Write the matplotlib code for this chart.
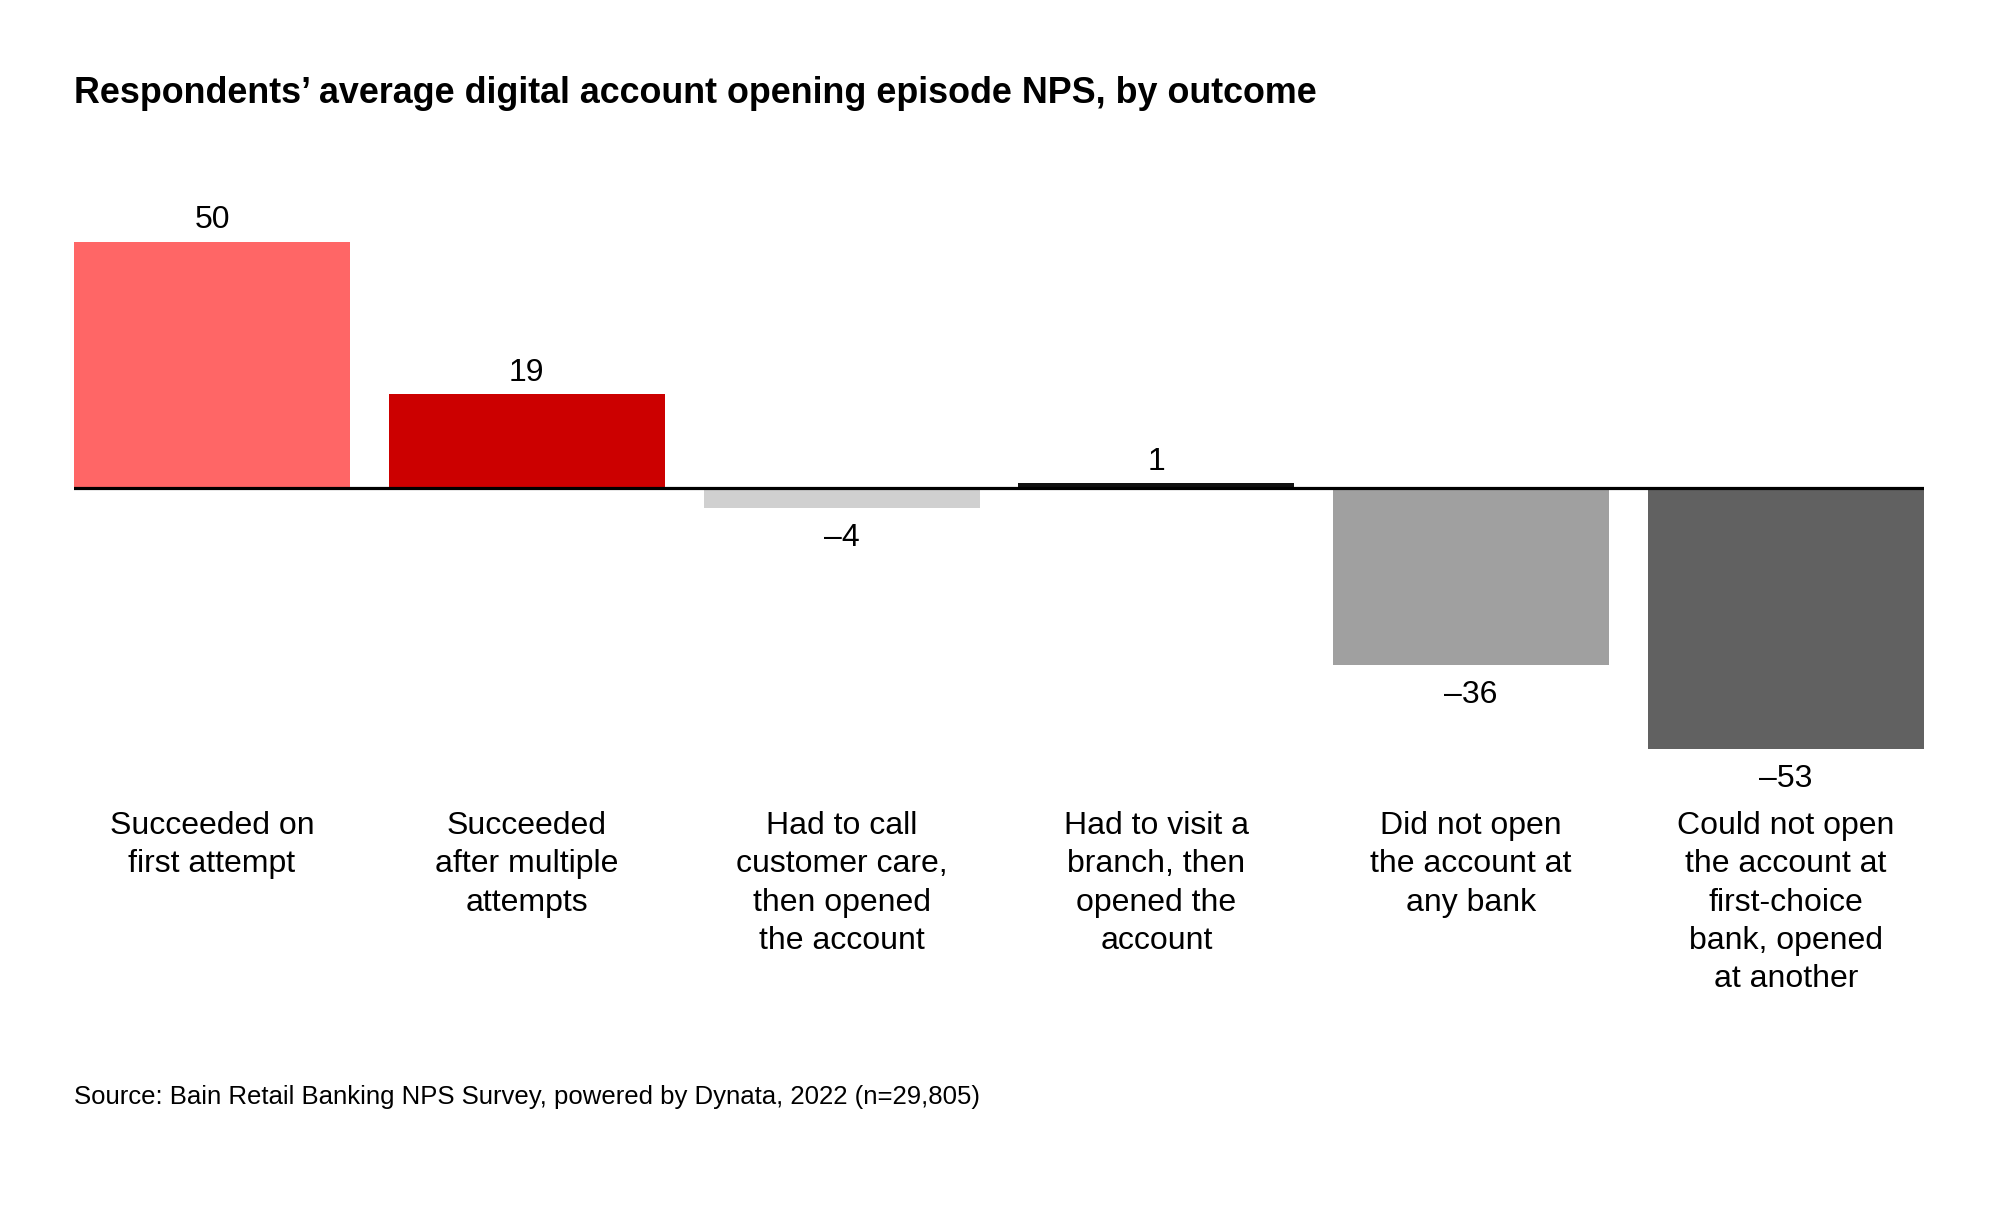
import matplotlib
matplotlib.use("Agg")
import matplotlib.pyplot as plt
import matplotlib.transforms as mtransforms

plt.rcParams['font.family'] = ['Liberation Sans', 'DejaVu Sans']

categories = [
    "Succeeded on\nfirst attempt",
    "Succeeded\nafter multiple\nattempts",
    "Had to call\ncustomer care,\nthen opened\nthe account",
    "Had to visit a\nbranch, then\nopened the\naccount",
    "Did not open\nthe account at\nany bank",
    "Could not open\nthe account at\nfirst-choice\nbank, opened\nat another",
]
values = [50, 19, -4, 1, -36, -53]
colors = ["#FF6666", "#CC0000", "#D0D0D0", "#111111", "#A0A0A0", "#616161"]

title = "Respondents\u2019 average digital account opening episode NPS, by outcome"
source = "Source: Bain Retail Banking NPS Survey, powered by Dynata, 2022 (n=29,805)"

W, H = 2000, 1232
fig = plt.figure(figsize=(W / 100, H / 100), dpi=100)

# axes geometry (pixels)
px_per_unit = 4.93
zero_px = 488.0
ytop, ybot = 60, -60
top_px = zero_px - ytop * px_per_unit
bot_px = zero_px - ybot * px_per_unit
left_px, right_px = 74, 1924
ax = fig.add_axes([left_px / W, 1 - bot_px / H, (right_px - left_px) / W, (bot_px - top_px) / H])

bw = 0.877
x = list(range(len(values)))
ax.bar(x, values, width=bw, color=colors, zorder=2)
ax.set_xlim(-bw / 2, len(values) - 1 + bw / 2)
ax.set_ylim(ybot, ytop)
ax.axhline(0, color="black", linewidth=2.3, zorder=3)
ax.axis("off")

for xi, v in zip(x, values):
    lab = f"{v}" if v >= 0 else f"\u2013{abs(v)}"
    off = 13 if v >= 0 else -38
    ax.annotate(lab, (xi, v), xytext=(0, off), textcoords="offset pixels",
                ha="center", va="baseline", fontsize=23, color="black")

trans = mtransforms.blended_transform_factory(ax.transData, fig.transFigure)
for xi, cat in zip(x, categories):
    for i, line in enumerate(cat.split("\n")):
        ax.text(xi, 1 - (834 + 38.3 * i) / H, line, transform=trans,
                ha="center", va="baseline", fontsize=23, color="black")

fig.text(left_px / W, 1 - 103 / H, title, ha="left", va="baseline",
         fontsize=25.8, fontweight="bold", color="black")
fig.text(left_px / W, 1 - 1104 / H, source, ha="left", va="baseline",
         fontsize=18.5, color="black")

fig.savefig("out.png", dpi=100, facecolor="white")
